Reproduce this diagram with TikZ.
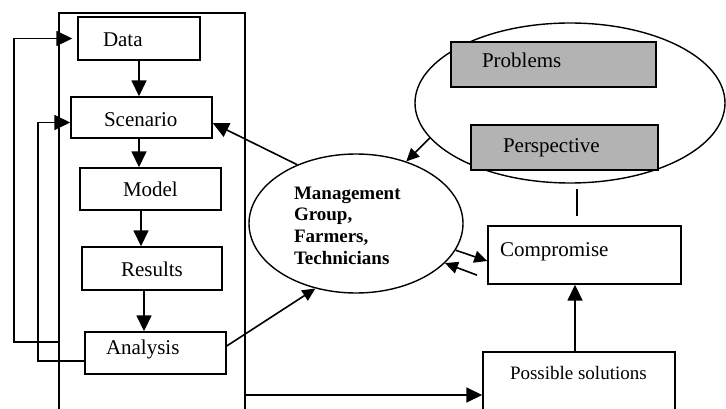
\documentclass[tikz,border=0pt]{standalone}
\usepackage{fontspec}
\setmainfont{Liberation Serif}
\usetikzlibrary{arrows.meta,shapes.geometric,calc}
\definecolor{boxgray}{RGB}{179,179,179}
\newcommand{\bxt}[4]{\raisebox{#3}[0pt][0pt]{\makebox[#1][l]{\hspace*{#2}#4}}}
\begin{document}
\begin{tikzpicture}[x=1pt,y=-1pt,
  box/.style={draw, line width=1.4pt, inner sep=0pt, font=\fontsize{21}{24}\selectfont},
  graybox/.style={box, fill=boxgray, line width=2.2pt},
  arr/.style={line width=1.6pt, -{Triangle[length=16pt,width=15pt]}},
  sarr/.style={line width=1.6pt, -{Triangle[length=13pt,width=12pt]}},
  plainline/.style={line width=1.4pt}]
\useasboundingbox (0,0) rectangle (726,409);
\clip (0,0) rectangle (726,409);
% frame
\node[draw, line width=1.4pt, minimum width=186pt, minimum height=407pt, inner sep=0pt] (frame) at (152,216.5) {};
% left column
\node[box, minimum height=43pt] (data) at (139,38.5) {\bxt{122pt}{25pt}{-8.2pt}{Data}};
\node[box, minimum height=41pt] (scenario) at (141.5,117.5) {\bxt{141pt}{33pt}{-9.2pt}{Scenario}};
\node[box, minimum height=42pt] (model) at (150.5,189) {\bxt{141pt}{43pt}{-7.7pt}{Model}};
\node[box, minimum height=43pt] (results) at (152,268.5) {\bxt{140pt}{39pt}{-8.2pt}{Results}};
\node[box, minimum height=42pt] (analysis) at (155.5,353) {\bxt{141pt}{21pt}{-1pt}{Analysis}};
% right part
\node[draw, ellipse, line width=1.4pt, minimum width=310pt, minimum height=160pt, inner sep=0pt] (pe) at (570,103) {};
\node[graybox, minimum height=45pt] (problems) at (553.5,64.5) {\bxt{205pt}{31pt}{-3.2pt}{Problems}};
\node[graybox, minimum height=45pt] (perspective) at (564.5,147.5) {\bxt{187pt}{32pt}{-5.2pt}{Perspective}};
\node[draw, ellipse, line width=1.4pt, minimum width=214pt, minimum height=139pt, inner sep=0pt] (mg) at (356,223.5)
  {\raisebox{24.5pt}[0pt][0pt]{\makebox[0pt][l]{\hspace*{-62pt}\fontsize{19}{21.7}\selectfont\bfseries\begin{tabular}[t]{@{}l@{}}Management\\Group,\\Farmers,\\Technicians\end{tabular}}}};
\node[box, minimum height=58pt] (compromise) at (584.5,255) {\bxt{193pt}{12pt}{-1.7pt}{Compromise}};
\node[box, minimum height=68pt, font=\fontsize{19}{22}\selectfont] (ps) at (579,386) {\bxt{192pt}{27pt}{6.7pt}{Possible solutions}};
% helper coordinates
\coordinate (o1) at (14,0);
\coordinate (i1) at (38,0);
\coordinate (a1) at ([yshift=11pt]analysis.west);
\coordinate (a2) at ([yshift=-8pt]analysis.west);
\coordinate (s1) at ([yshift=-5pt]scenario.west);
\coordinate (cmtop) at ([xshift=-7.5pt]compromise.north);
\coordinate (pstop) at ([xshift=-4pt]ps.north);
\coordinate (psin) at ([yshift=-9pt]ps.west);
% column arrows
\draw[arr] (data.south) -- ([xshift=-2.5pt]scenario.north);
\draw[arr] ([xshift=-2.5pt]scenario.south) -- ([xshift=-11.5pt]model.north);
\draw[arr] ([xshift=-9.5pt]model.south) -- ([xshift=-11pt]results.north);
\draw[arr] ([xshift=-8pt]results.south) -- ([xshift=-11.5pt]analysis.north);
% feedback loops
\draw[arr, shorten >=5pt] (a1 -| frame.west) -| (o1 |- data.west) -- (data.west);
\draw[arr] (a2) -| (i1 |- s1) -- (s1);
% management links
\draw[arr] (mg.135) -- ([yshift=-5.5pt]scenario.east);
\draw[sarr] ([yshift=7pt]analysis.east) -- (mg.238);
\draw[sarr] (pe.194) -- (mg.51);
\draw[sarr] (mg.345) -- ([yshift=-6pt]compromise.west);
\draw[sarr, shorten <=11pt] ([yshift=-24pt]compromise.west) -- (mg.336);
\draw[plainline, shorten <=9pt, shorten >=5pt] (cmtop) -- (cmtop |- pe.south);
\draw[arr] (pstop) -- (pstop |- compromise.south);
\draw[arr] (psin -| frame.east) -- (psin);
\end{tikzpicture}
\end{document}
